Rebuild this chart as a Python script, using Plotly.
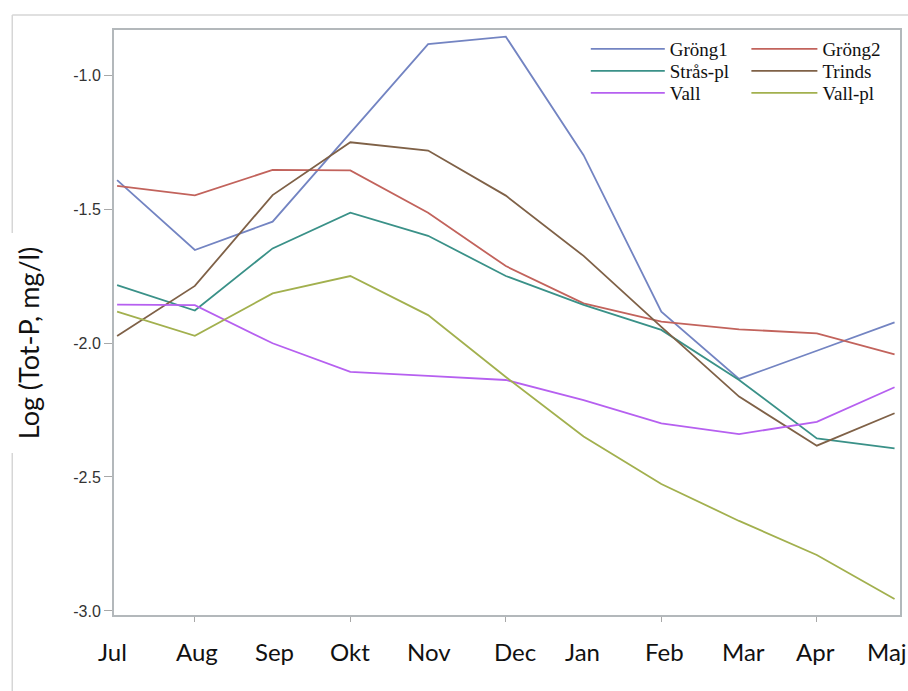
import plotly.graph_objects as go

# Monthly log total phosphorus per site
months = ["Jul", "Aug", "Sep", "Okt", "Nov", "Dec", "Jan", "Feb", "Mar", "Apr", "Maj"]
grong1 = [-1.392, -1.653, -1.547, -1.218, -0.885, -0.857, -1.299, -1.883, -2.134, -2.029, -1.923]
grong2 = [-1.414, -1.449, -1.354, -1.356, -1.514, -1.713, -1.852, -1.920, -1.949, -1.964, -2.042]
stras_pl = [-1.784, -1.879, -1.647, -1.514, -1.600, -1.750, -1.858, -1.951, -2.138, -2.356, -2.393]
trinds = [-1.974, -1.787, -1.448, -1.251, -1.282, -1.450, -1.675, -1.940, -2.200, -2.383, -2.262]
vall = [-1.857, -1.859, -2.001, -2.108, -2.123, -2.138, -2.213, -2.300, -2.340, -2.294, -2.165]
vall_pl = [-1.883, -1.973, -1.815, -1.750, -1.896, -2.127, -2.349, -2.526, -2.664, -2.791, -2.955]

y_ticks = [-1.0, -1.5, -2.0, -2.5, -3.0]
x_tick_months = ["Aug", "Okt", "Dec", "Feb", "Apr"]

series_names = ["Gröng1", "Gröng2", "Strås-pl", "Trinds", "Vall", "Vall-pl"]
series_values = [grong1, grong2, stras_pl, trinds, vall, vall_pl]
series_colors = ["#7384c2", "#c2635c", "#3a9188", "#7f6147", "#b660f0", "#a2b04e"]

# legend grid: two columns, three rows (pixel anchors on the page)
legend_cols = [(587, 74), (748, 66)]   # (left edge, item width)
legend_rows = [48, 70, 92]             # row centre lines

# horizontal nudges (px) for the month labels under the axis
label_nudge = [-5, 2, 2, 0, 1, 9, -1, 3, 4, -1, -8]

W, H = 908, 691
L, R, T, B = 114, 6, 30, 76
PW, PH = W - L - R, H - T - B


def px_x(px):
    return (px - L) / PW


def px_y(py):
    return (H - B - py) / PH


fig = go.Figure()
legend_font = dict(family="Liberation Serif, Times New Roman", size=19, color="#111111")
legend_layouts = {}
for i, (name, vals, col) in enumerate(zip(series_names, series_values, series_colors)):
    key = "legend" if i == 0 else f"legend{i + 1}"
    fig.add_trace(go.Scatter(
        x=months, y=vals, name=name, mode="lines", showlegend=True,
        line=dict(color=col, width=1.8), legend=key,
    ))
    cx, iw = legend_cols[i % 2]
    cy = legend_rows[i // 2]
    legend_layouts[key] = dict(
        x=px_x(cx), y=px_y(cy - 18), xanchor="left", yanchor="top",
        font=legend_font, itemwidth=iw, bgcolor="rgba(0,0,0,0)",
    )

axis_col = "#b3b8bb"
fig.update_xaxes(
    type="category", range=[-0.04, 10.07],
    showline=True, linecolor=axis_col, linewidth=2, mirror=True,
    showgrid=False, zeroline=False,
    tickmode="array", tickvals=x_tick_months, showticklabels=False,
    ticks="outside", ticklen=5, tickwidth=1, tickcolor="#a8a8a8",
)
fig.update_yaxes(
    range=[-3.015, -0.832],
    showline=True, linecolor=axis_col, linewidth=2, mirror=True,
    showgrid=False, zeroline=False,
    tickmode="array", tickvals=y_ticks, ticktext=[f"{v:.1f}" for v in y_ticks],
    ticks="outside", ticklen=8, tickwidth=1, tickcolor="#a8a8a8",
    tickfont=dict(family="Liberation Sans, Arial", size=16, color="#333333"),
)

annotations = []
for m, dx in zip(months, label_nudge):
    annotations.append(dict(
        x=m, xref="x", y=px_y(651), yref="paper", xshift=dx,
        text=m, showarrow=False, xanchor="center", yanchor="middle",
        font=dict(family="Lato", size=24, color="#111111"),
    ))
annotations.append(dict(
    x=px_x(28), y=px_y(343), xref="paper", yref="paper",
    text="Log (Tot-P, mg/l)", textangle=-90, showarrow=False,
    xanchor="center", yanchor="middle",
    font=dict(family="Lato", size=27, color="#111111"),
))

frame_col = "#d6d6d6"
shapes = [
    dict(type="line", xref="paper", yref="paper", x0=px_x(12), x1=px_x(930),
         y0=px_y(15), y1=px_y(15), line=dict(color=frame_col, width=1.5)),
    dict(type="line", xref="paper", yref="paper", x0=px_x(12), x1=px_x(12),
         y0=px_y(15), y1=px_y(233), line=dict(color=frame_col, width=1.5)),
    dict(type="line", xref="paper", yref="paper", x0=px_x(12), x1=px_x(12),
         y0=px_y(453), y1=px_y(720), line=dict(color=frame_col, width=1.5)),
]

fig.update_layout(
    width=W, height=H,
    margin=dict(l=L, r=R, t=T, b=B),
    paper_bgcolor="white", plot_bgcolor="white",
    showlegend=True,
    annotations=annotations, shapes=shapes,
    **legend_layouts,
)

fig.write_html("out.html")
